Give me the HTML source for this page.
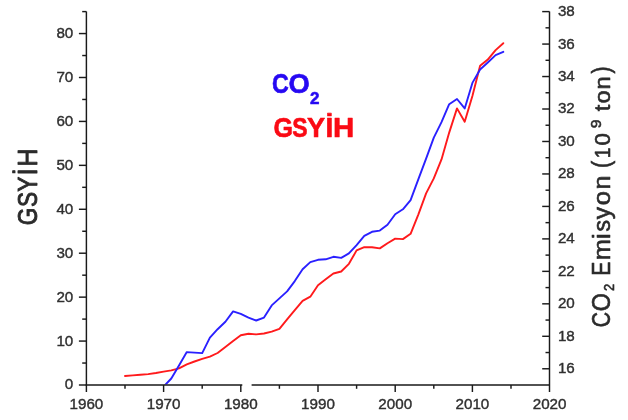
<!DOCTYPE html><html><head><meta charset="utf-8"><style>html,body{margin:0;padding:0;background:#fff}svg{display:block}text{font-family:"Liberation Sans",sans-serif}</style></head><body>
<svg width="628" height="420" viewBox="0 0 628 420" style="will-change:transform">
<rect width="628" height="420" fill="#fff"/>
<defs><clipPath id="c"><rect x="86" y="0" width="464" height="384.6"/></clipPath></defs>
<g clip-path="url(#c)" fill="none" stroke-width="1.9" stroke-linejoin="round" stroke-linecap="round">
<polyline stroke="#ff1a1c" points="125.0,376.0 132.7,375.4 140.4,374.8 148.2,374.1 155.9,373.0 163.6,371.6 171.3,370.4 179.0,368.3 186.8,364.3 194.5,361.5 202.2,358.9 209.9,356.6 217.6,353.0 225.4,347.0 233.1,341.0 240.8,335.3 248.5,333.8 256.2,334.4 264.0,333.5 271.7,331.6 279.4,328.8 287.1,319.3 294.8,310.1 302.6,300.9 310.3,296.7 318.0,285.3 325.7,279.3 333.4,273.5 341.2,271.5 348.9,263.8 356.6,250.4 364.3,247.1 372.0,247.2 379.8,248.4 387.5,243.2 395.2,238.6 402.9,239.1 410.6,233.8 418.4,214.3 426.1,193.4 433.8,178.4 441.5,159.4 449.2,132.6 457.0,108.4 464.7,121.8 472.4,96.0 480.1,65.8 487.8,59.6 495.6,50.1 503.3,43.2"/>
<polyline stroke="#2a20ff" points="163.6,386.6 171.3,378.5 179.0,365.4 186.8,352.1 194.5,352.6 202.2,353.1 209.9,337.6 217.6,329.2 225.4,321.8 233.1,311.4 240.8,313.9 248.5,317.6 256.2,320.5 264.0,317.6 271.7,305.4 279.4,298.4 287.1,291.4 294.8,281.1 302.6,269.3 310.3,262.1 318.0,259.8 325.7,259.3 333.4,256.8 341.2,257.9 348.9,253.4 356.6,245.1 364.3,235.9 372.0,231.8 379.8,230.6 387.5,224.7 395.2,214.2 402.9,209.3 410.6,200.2 418.4,179.2 426.1,158.6 433.8,137.6 441.5,122.2 449.2,104.2 457.0,99.0 464.7,108.4 472.4,82.9 480.1,69.5 487.8,62.5 495.6,55.1 503.3,51.8"/>
</g>
<g stroke="#1a1a1a" stroke-width="1.45" fill="none">
<path d="M86.4 11.6 V385.0"/>
<path d="M549.5 11.6 V392.0"/>
<path d="M85.65 385.0 H242.3 M251.6 385.0 H549.5"/>
<path d="M78.9 385.00 H86.4"/>
<path d="M82.2 363.04 H86.4"/>
<path d="M78.9 341.07 H86.4"/>
<path d="M82.2 319.11 H86.4"/>
<path d="M78.9 297.14 H86.4"/>
<path d="M82.2 275.18 H86.4"/>
<path d="M78.9 253.21 H86.4"/>
<path d="M82.2 231.25 H86.4"/>
<path d="M78.9 209.28 H86.4"/>
<path d="M82.2 187.32 H86.4"/>
<path d="M78.9 165.35 H86.4"/>
<path d="M82.2 143.39 H86.4"/>
<path d="M78.9 121.42 H86.4"/>
<path d="M82.2 99.46 H86.4"/>
<path d="M78.9 77.49 H86.4"/>
<path d="M82.2 55.53 H86.4"/>
<path d="M78.9 33.56 H86.4"/>
<path d="M82.2 11.60 H86.4"/>
<path d="M542.2 368.77 H549.5"/>
<path d="M545.5 352.53 H549.5"/>
<path d="M542.2 336.30 H549.5"/>
<path d="M545.5 320.06 H549.5"/>
<path d="M542.2 303.83 H549.5"/>
<path d="M545.5 287.59 H549.5"/>
<path d="M542.2 271.36 H549.5"/>
<path d="M545.5 255.12 H549.5"/>
<path d="M542.2 238.89 H549.5"/>
<path d="M545.5 222.65 H549.5"/>
<path d="M542.2 206.42 H549.5"/>
<path d="M545.5 190.18 H549.5"/>
<path d="M542.2 173.95 H549.5"/>
<path d="M545.5 157.71 H549.5"/>
<path d="M542.2 141.48 H549.5"/>
<path d="M545.5 125.24 H549.5"/>
<path d="M542.2 109.01 H549.5"/>
<path d="M545.5 92.77 H549.5"/>
<path d="M542.2 76.54 H549.5"/>
<path d="M545.5 60.30 H549.5"/>
<path d="M542.2 44.07 H549.5"/>
<path d="M545.5 27.83 H549.5"/>
<path d="M542.2 11.60 H549.5"/>
<path d="M86.40 385.0 V392.0"/>
<path d="M125.00 385.0 V388.8"/>
<path d="M163.60 385.0 V392.0"/>
<path d="M202.20 385.0 V388.8"/>
<path d="M240.80 385.0 V392.0"/>
<path d="M279.40 385.0 V388.8"/>
<path d="M318.00 385.0 V392.0"/>
<path d="M356.60 385.0 V388.8"/>
<path d="M395.20 385.0 V392.0"/>
<path d="M433.80 385.0 V388.8"/>
<path d="M472.40 385.0 V392.0"/>
<path d="M511.00 385.0 V388.8"/>
</g>
<g fill="#303030" stroke="#303030" stroke-width="0.4" font-size="15.2">
<text x="73.3" y="389.4" text-anchor="end">0</text>
<text x="73.3" y="345.5" text-anchor="end">10</text>
<text x="73.3" y="301.5" text-anchor="end">20</text>
<text x="73.3" y="257.6" text-anchor="end">30</text>
<text x="73.3" y="213.7" text-anchor="end">40</text>
<text x="73.3" y="169.8" text-anchor="end">50</text>
<text x="73.3" y="125.8" text-anchor="end">60</text>
<text x="73.3" y="81.9" text-anchor="end">70</text>
<text x="73.3" y="38.0" text-anchor="end">80</text>
<text x="557.9" y="373.2">16</text>
<text x="557.9" y="340.7">18</text>
<text x="557.9" y="308.2">20</text>
<text x="557.9" y="275.8">22</text>
<text x="557.9" y="243.3">24</text>
<text x="557.9" y="210.8">26</text>
<text x="557.9" y="178.3">28</text>
<text x="557.9" y="145.9">30</text>
<text x="557.9" y="113.4">32</text>
<text x="557.9" y="80.9">34</text>
<text x="557.9" y="48.5">36</text>
<text x="557.9" y="16.0">38</text>
<text x="86.4" y="408.7" text-anchor="middle">1960</text>
<text x="163.6" y="408.7" text-anchor="middle">1970</text>
<text x="240.8" y="408.7" text-anchor="middle">1980</text>
<text x="318.0" y="408.7" text-anchor="middle">1990</text>
<text x="395.2" y="408.7" text-anchor="middle">2000</text>
<text x="472.4" y="408.7" text-anchor="middle">2010</text>
<text x="549.6" y="408.7" text-anchor="middle">2020</text>
</g>
<g transform="translate(37.3 224.4) rotate(-90)" fill="#2b2b2b" stroke="#2b2b2b" stroke-width="0.9" stroke-linejoin="round">
<text transform="translate(-0.94 0.00) scale(0.840 1)" font-size="27.0">G</text>
<text transform="translate(17.44 0.00) scale(0.840 1)" font-size="27.0">S</text>
<text transform="translate(32.54 0.00) scale(0.840 1)" font-size="27.0">Y</text>
<text transform="translate(49.07 0.00) scale(0.913 1)" font-size="27.0">İ</text>
<text transform="translate(58.01 0.00) scale(0.922 1)" font-size="27.0">H</text>
</g>
<g transform="translate(609.6 326.2) rotate(-90)" fill="#2b2b2b" stroke="#2b2b2b" stroke-width="0.6" stroke-linejoin="round">
<text transform="translate(-1.03 0.00) scale(0.840 1)" font-size="25.2">C</text>
<text transform="translate(14.90 0.00) scale(0.919 1)" font-size="25.2">O</text>
<text transform="translate(50.43 0.00) scale(0.840 1)" font-size="25.2">E</text>
<text transform="translate(65.98 0.00) scale(1.080 1)" font-size="23.6">m</text>
<text transform="translate(87.23 0.00) scale(1.061 1)" font-size="23.6">i</text>
<text transform="translate(94.66 0.00) scale(0.972 1)" font-size="23.6">s</text>
<text transform="translate(107.04 0.00) scale(1.035 1)" font-size="23.6">y</text>
<text transform="translate(120.91 0.00) scale(1.080 1)" font-size="23.6">o</text>
<text transform="translate(136.63 0.00) scale(1.067 1)" font-size="23.6">n</text>
<text transform="translate(158.24 0.00) scale(0.868 1)" font-size="25.2">(</text>
<text transform="translate(167.91 0.00) scale(0.840 1)" font-size="22.8">1</text>
<text transform="translate(180.73 0.00) scale(0.973 1)" font-size="22.8">0</text>
<text transform="translate(214.89 0.00) scale(1.080 1)" font-size="21.8">t</text>
<text transform="translate(222.75 0.00) scale(1.080 1)" font-size="21.8">o</text>
<text transform="translate(236.64 0.00) scale(1.080 1)" font-size="21.8">n</text>
<text transform="translate(252.72 0.00) scale(0.840 1)" font-size="25.2">)</text>
<text transform="translate(35.30 3.90) scale(0.840 1)" font-size="15.4">2</text>
<text transform="translate(198.06 -8.60) scale(1.054 1)" font-size="15">9</text>
</g>
<g fill="#2608f2" stroke="#2608f2" stroke-width="0.6" stroke-linejoin="round">
<text transform="translate(271.95 93.40) scale(0.848 1)" font-size="27.4" font-weight="bold">C</text>
<text transform="translate(288.38 93.40) scale(0.998 1)" font-size="27.4" font-weight="bold">O</text>
<text transform="translate(310.01 104.20) scale(0.979 1)" font-size="17.4" font-weight="bold">2</text>
</g>
<g fill="#fa0a14" stroke="#fa0a14" stroke-width="0.6" stroke-linejoin="round">
<text transform="translate(273.47 136.90) scale(0.914 1)" font-size="27.4" font-weight="bold">G</text>
<text transform="translate(292.29 136.90) scale(0.840 1)" font-size="27.4" font-weight="bold">S</text>
<text transform="translate(307.04 136.90) scale(0.990 1)" font-size="27.4" font-weight="bold">Y</text>
<text transform="translate(325.44 136.90) scale(1.013 1)" font-size="27.4" font-weight="bold">İ</text>
<text transform="translate(333.03 136.90) scale(1.074 1)" font-size="27.4" font-weight="bold">H</text>
</g>
</svg></body></html>
